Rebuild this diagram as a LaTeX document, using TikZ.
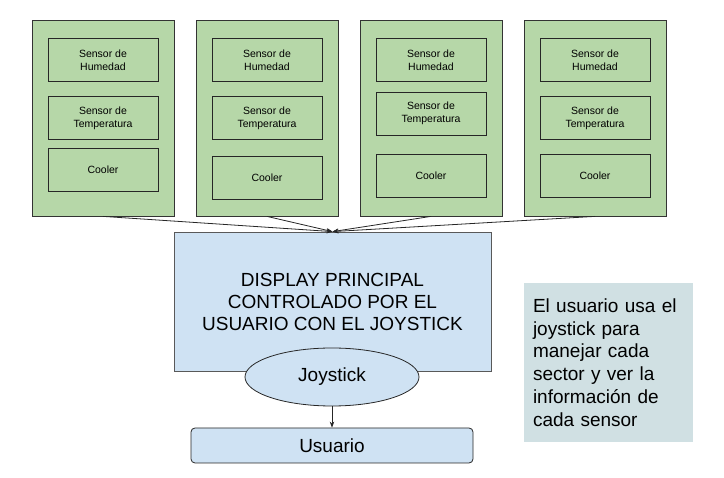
\documentclass[tikz,border=0pt]{standalone}
\usepackage{fontspec}
\setmainfont{Liberation Sans}
\usetikzlibrary{arrows.meta,shapes.geometric}
\definecolor{sectorgreen}{HTML}{B6D7A8}
\definecolor{displayblue}{HTML}{CFE2F3}
\definecolor{notegrey}{HTML}{D0E0E3}
\begin{document}
\begin{tikzpicture}[x=1pt,y=-1pt,>={Stealth[length=6pt,width=4.5pt]},
    sector/.style={draw=black!80,line width=0.8pt,fill=sectorgreen,minimum width=142pt,minimum height=196pt},
    sensor/.style={draw=black!85,line width=0.8pt,fill=sectorgreen,minimum width=110pt,minimum height=43pt,inner sep=0pt,align=center,font=\fontsize{10.5}{13.3}\selectfont},
    display/.style={draw=black!65,line width=0.8pt,fill=displayblue,minimum width=317pt,minimum height=139pt,inner sep=0pt,align=center,font=\fontsize{19}{22}\selectfont},
    joy/.style={ellipse,draw=black!85,line width=0.8pt,fill=displayblue,minimum width=174pt,minimum height=58pt,inner sep=0pt,font=\fontsize{19}{22}\selectfont},
    user/.style={draw=black!85,line width=0.8pt,fill=displayblue,rounded corners=4pt,minimum width=282pt,minimum height=35pt,inner sep=0pt,font=\fontsize{19}{22}\selectfont},
    note/.style={fill=notegrey,minimum height=159pt,text width=151pt,inner xsep=9pt,align=left,font=\fontsize{19}{22.8}\selectfont},
    link/.style={->,line width=0.8pt,draw=black!85}]
    \useasboundingbox (0,0) rectangle (724,478);
    \node[sector] (s1) at (103,118) {};
    \node[sector] (s2) at (267,118) {};
    \node[sector] (s3) at (431,118) {};
    \node[sector] (s4) at (595,118) {};
    \node[sensor] (hum1) at (103,60) {Sensor de\\Humedad};
    \node[sensor] (temp1) at (103,118) {Sensor de\\Temperatura};
    \node[sensor] (cool1) at (103,169.5) {Cooler};
    \node[sensor] (hum2) at (267,60) {Sensor de\\Humedad};
    \node[sensor] (temp2) at (267,118) {Sensor de\\Temperatura};
    \node[sensor] (cool2) at (267,177.5) {Cooler};
    \node[sensor] (hum3) at (431,60) {Sensor de\\Humedad};
    \node[sensor] (temp3) at (431,113.5) {Sensor de\\Temperatura};
    \node[sensor] (cool3) at (431,175.5) {Cooler};
    \node[sensor] (hum4) at (595,60) {Sensor de\\Humedad};
    \node[sensor] (temp4) at (595,118) {Sensor de\\Temperatura};
    \node[sensor] (cool4) at (595,176) {Cooler};
    \node[display] (disp) at (332.5,301.5) {DISPLAY PRINCIPAL\\CONTROLADO POR EL\\USUARIO CON EL JOYSTICK};
    \node[joy] (joystick) at (332,377) {Joystick};
    \node[user] (usuario) at (332,445.5) {Usuario};
    \node[note] (info) at (608.5,362.5) {El usuario usa el\\joystick para\\manejar cada\\sector y ver la\\informaci\'on de\\cada sensor};
    \draw[link] (s1.south) -- (disp.north);
    \draw[link] (s2.south) -- (disp.north);
    \draw[link] (s3.south) -- (disp.north);
    \draw[link] (s4.south) -- (disp.north);
    \draw[link] (joystick.south) -- (usuario.north);
\end{tikzpicture}
\end{document}
